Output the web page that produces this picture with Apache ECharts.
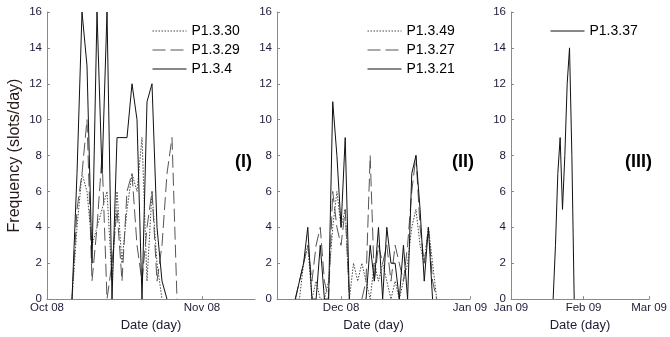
<!DOCTYPE html>
<html><head><meta charset="utf-8">
<script src="https://cdn.jsdelivr.net/npm/echarts@6/dist/echarts.min.js"></script>
<style>html,body{margin:0;padding:0;background:#fff}#c{width:670px;height:337px}</style>
</head><body><div id="c"></div>
<script>
// ---------- Panel I ----------
const p1Dates = ['2008-10-06','2008-10-07','2008-10-08','2008-10-09','2008-10-10','2008-10-11','2008-10-12','2008-10-13','2008-10-14','2008-10-15','2008-10-16','2008-10-17','2008-10-18','2008-10-19','2008-10-20','2008-10-21','2008-10-22','2008-10-23','2008-10-24','2008-10-25','2008-10-26','2008-10-27'];
const p1_3_30 = [0,4,7,6,3,4,5,6,1,6,2,5,7,6,9,1,6,2,0,null,null,null];
const p1_3_29 = [0,5,7,10,1,4,8,0,2,5,1,6,7,3,1,4,6,1,3,7,9,0];
const p1_3_4  = [0,7,16,13,2,16,7,16,0,9,9,9,12,10,0,11,12,4,1,0,null,null];
const p1Ticks = ['2008-10-01','2008-11-01'];
// ---------- Panel II ----------
const p2Dates = ['2008-11-20','2008-11-21','2008-11-22','2008-11-23','2008-11-24','2008-11-25','2008-11-26','2008-11-27','2008-11-28','2008-11-29','2008-11-30','2008-12-01','2008-12-02','2008-12-03','2008-12-04','2008-12-05','2008-12-06','2008-12-07','2008-12-08','2008-12-09','2008-12-10','2008-12-11','2008-12-12','2008-12-13','2008-12-14','2008-12-15','2008-12-16','2008-12-17','2008-12-18','2008-12-19','2008-12-20','2008-12-21','2008-12-22','2008-12-23','2008-12-24'];
const p1_3_49 = [0,0,2,3,0,1,0,0,1,4,6,4,5,0,2,1,2,1,0,2,1,2,1,0,1,0,1,2,4,5,3,2,4,2,0];
const p1_3_27 = [0,1,2,3,1,3,4,1,0,6,4,3,5,0,null,null,0,1,8,1,3,2,3,1,3,2,1,3,6,8,4,2,4,1,0];
const p1_3_21 = [0,1,2,4,0,0,3,0,0,11,8,4,9,0,null,null,null,0,3,1,4,0,4,2,2,0,3,0,7,8,5,1,4,0,null];
const p2Ticks = ['2008-12-01','2009-01-01'];
// ---------- Panel III ----------
const p3Dates = ['2009-01-19','2009-01-20','2009-01-21','2009-01-22','2009-01-23','2009-01-24','2009-01-25','2009-01-26','2009-01-27','2009-01-28'];
const p1_3_37 = [0,3,7,9,5,8,12,14,8,0];
const p3Ticks = ['2009-01-01','2009-02-01','2009-03-01'];
const yTicksMax = 16, yTickStep = 2;

const DAY = 86400000;
const ts = s => Date.parse(s);
const MON = ['Jan','Feb','Mar','Apr','May','Jun','Jul','Aug','Sep','Oct','Nov','Dec'];
const fmt = v => { const d = new Date(v); return MON[d.getUTCMonth()] + ' ' + String(d.getUTCFullYear() % 100).padStart(2,'0'); };
const pairs = (dates, vals) => dates.map((d,i) => [ts(d), vals[i]]);

const FONT = 'Liberation Sans';
const tickColor = '#1c1c38';
const axisColor = '#8a8a8a';

const ranges = [
  [ts('2008-10-01'), ts('2008-10-01') + 41.6*DAY],
  [ts('2009-01-01') - 46.4*DAY, ts('2009-01-01')],
  [ts('2009-01-01'), ts('2009-03-01')]
];
const tickSets = [p1Ticks, p2Ticks, p3Ticks].map(a => a.map(ts));

const grids = [
  {left:47, top:12, width:208, bottom:36},
  {left:277, top:12, width:193, bottom:36},
  {left:511, top:12, width:143, bottom:36}
];

const xAxes = grids.map((g,i) => ({
  type:'value', gridIndex:i, min:ranges[i][0], max:ranges[i][1],
  axisLine:{show:true, lineStyle:{color:axisColor, width:1}},
  axisTick:{show:true, inside:true, length:3, customValues:tickSets[i], lineStyle:{color:axisColor}},
  axisLabel:{customValues:tickSets[i], formatter:fmt, fontSize:11.5, fontFamily:FONT, color:tickColor, margin:3},
  splitLine:{show:false},
  name:'Date (day)', nameLocation:'middle', nameGap:18,
  nameTextStyle:{fontSize:13, fontFamily:FONT, color:'#1c1c30'}
}));

const yAxes = grids.map((g,i) => ({
  type:'value', gridIndex:i, min:0, max:yTicksMax, interval:yTickStep,
  axisLine:{show:true, lineStyle:{color:axisColor, width:1}},
  axisTick:{show:true, inside:true, length:3, lineStyle:{color:axisColor}},
  axisLabel:{fontSize:11.5, fontFamily:FONT, color:tickColor, margin:5},
  splitLine:{show:false},
  name: i === 0 ? 'Frequency (slots/day)' : '',
  nameLocation:'middle', nameGap:24, nameRotate:90,
  nameTextStyle:{fontSize:16, fontFamily:FONT, color:'#2a1818'}
}));

const sDotted = {color:'#444', width:1, type:[1.5,1.5]};
const sDashed = {color:'#555', width:1, type:[13,5]};
const sSolid  = {color:'#111', width:1, type:'solid'};

const mk = (name, idx, dates, vals, ls) => ({
  name, type:'line', xAxisIndex:idx, yAxisIndex:idx, data:pairs(dates, vals),
  symbol:'none', showSymbol:false, lineStyle:ls, itemStyle:{color:ls.color},
  connectNulls:false, animation:false, silent:true
});

const series = [
  mk('P1.3.30', 0, p1Dates, p1_3_30, sDotted),
  mk('P1.3.29', 0, p1Dates, p1_3_29, sDashed),
  mk('P1.3.4', 0, p1Dates, p1_3_4, sSolid),
  mk('P1.3.49', 1, p2Dates, p1_3_49, sDotted),
  mk('P1.3.27', 1, p2Dates, p1_3_27, sDashed),
  mk('P1.3.21', 1, p2Dates, p1_3_21, sSolid),
  mk('P1.3.37', 2, p3Dates, p1_3_37, sSolid)
];

const legBase = {orient:'vertical', top:24, itemWidth:34, itemHeight:14, itemGap:5, padding:0,
  selectedMode:false, textStyle:{fontSize:14, fontFamily:FONT, color:'#000'},
  itemStyle:{opacity:0, color:'rgba(0,0,0,0)', borderWidth:0},
  lineStyle:{width:1}};

const chart = echarts.init(document.getElementById('c'), null, {renderer:'canvas'});
chart.setOption({
  animation:false,
  backgroundColor:'#fff',
  grid:grids,
  xAxis:xAxes,
  yAxis:yAxes,
  legend:[
    Object.assign({}, legBase, {left:152, data:['P1.3.30','P1.3.29','P1.3.4']}),
    Object.assign({}, legBase, {left:367, data:['P1.3.49','P1.3.27','P1.3.21']}),
    Object.assign({}, legBase, {left:550, data:['P1.3.37']})
  ],
  graphic:[
    {type:'text', left:235, top:153, style:{text:'(I)', font:'bold 18px "Liberation Sans"', fill:'#000'}},
    {type:'text', left:452, top:153, style:{text:'(II)', font:'bold 18px "Liberation Sans"', fill:'#000'}},
    {type:'text', left:625, top:153, style:{text:'(III)', font:'bold 18px "Liberation Sans"', fill:'#000'}}
  ],
  series
});
</script>
</body></html>
